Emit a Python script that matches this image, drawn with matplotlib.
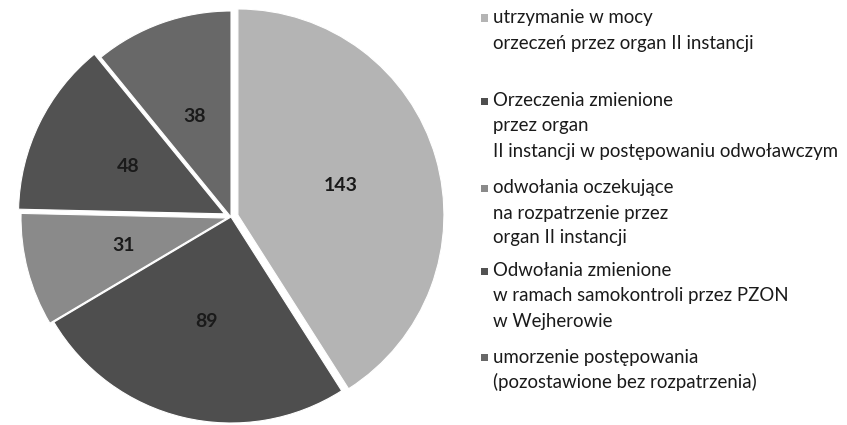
import matplotlib
matplotlib.use("Agg")
import matplotlib.pyplot as plt
from matplotlib.patches import Rectangle

values = [143, 89, 31, 48, 38]
labels = [
    "utrzymanie w mocy\norzeczeń przez organ II instancji",
    "Orzeczenia zmienione\nprzez organ\nII instancji w postępowaniu odwoławczym",
    "odwołania oczekujące\nna rozpatrzenie przez\norgan II instancji",
    "Odwołania zmienione\nw ramach samokontroli przez PZON\nw Wejherowie",
    "umorzenie postępowania\n(pozostawione bez rozpatrzenia)",
]
colors = ["#b4b4b4", "#4e4e4e", "#8a8a8a", "#525252", "#686868"]
explode = [0.035, 0.0, 0.02, 0.035, 0.0]

W, H = 847, 425
fig = plt.figure(figsize=(W / 100, H / 100), dpi=100)
fig.patch.set_facecolor("white")

cx, cy, r = 231, 217, 206
half = 1.15 * r
ax = fig.add_axes([(cx - half) / W, (H - cy - half) / H, 2 * half / W, 2 * half / H])
wedges, texts = ax.pie(
    values,
    explode=explode,
    colors=colors,
    startangle=90,
    counterclock=False,
    labels=[str(v) for v in values],
    labeldistance=0.52,
    wedgeprops=dict(edgecolor="white", linewidth=0.8),
    textprops=dict(fontsize=14, fontweight="bold", color="#1a1a1a", family="Lato",
                   ha="center", va="center"),
)
for t in texts:
    t.set_ha("center")
ax.set_xlim(-1.15, 1.15)
ax.set_ylim(-1.15, 1.15)
ax.set_aspect("auto")
ax.axis("off")

# legend (manual, matching reference layout)
entry_tops = [18, 101, 188, 271, 357]  # px from top, first-line centre
line_h = 25
text_x = 493
for lab, col, yt in zip(labels, colors, entry_tops):
    for i, line in enumerate(lab.split("\n")):
        fig.text(text_x / W, (H - (yt + i * line_h)) / H, line,
                 fontsize=13.4, family="Lato", color="#1a1a1a",
                 ha="left", va="center")
    sq = 7
    fig.patches.append(Rectangle(((481) / W, (H - yt - sq / 2) / H), sq / W, sq / H,
                                 transform=fig.transFigure, facecolor=col,
                                 edgecolor="none"))

fig.savefig("out.png", dpi=100, facecolor="white")
